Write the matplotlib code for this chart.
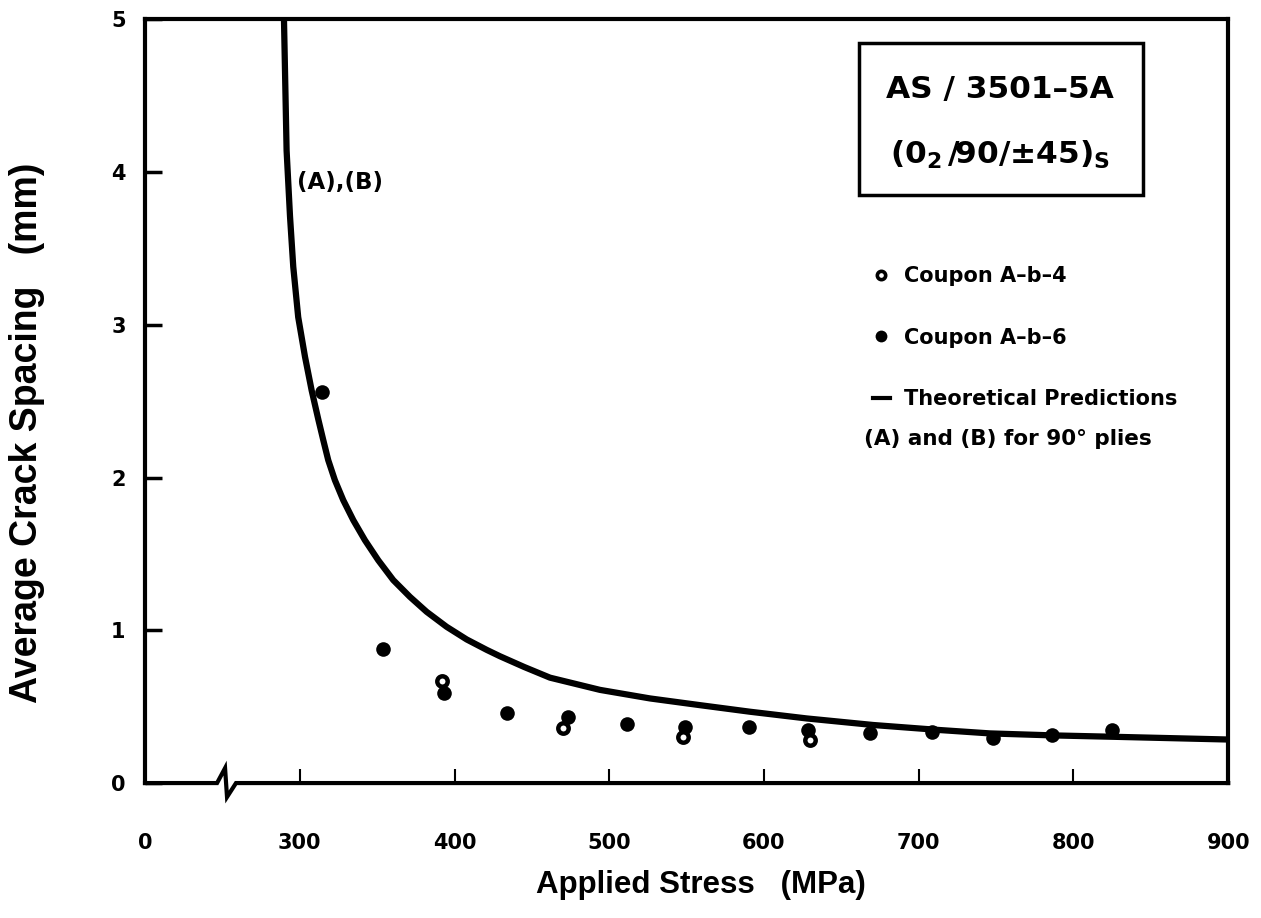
import numpy as np
import matplotlib
matplotlib.use("Agg")
import matplotlib.pyplot as plt
from matplotlib.lines import Line2D
from matplotlib.patches import Rectangle

plt.rcParams["font.family"] = ["Liberation Sans", "DejaVu Sans"]
HEAVY = ["DejaVu Sans"]

# theoretical prediction (A),(B) for the 90 deg plies
curve_stress = [289.8, 291.5, 293.7, 295.8, 299.0, 303.4, 307.7, 312.0, 315.2,
                318.4, 322.7, 328.1, 334.6, 342.1, 350.7, 360.4, 371.2, 382.0,
                394.9, 407.9, 420.8, 429.4, 445.0, 461.7, 494.0, 526.3, 558.6,
                590.9, 627.6, 670.6, 713.7, 746.0, 786.7, 825.5, 900.0]
curve_spacing = [5.00, 4.14, 3.71, 3.38, 3.05, 2.79, 2.57, 2.38, 2.245,
                 2.114, 1.983, 1.852, 1.721, 1.59, 1.459, 1.329, 1.219, 1.121,
                 1.023, 0.94, 0.872, 0.83, 0.76, 0.69, 0.61, 0.554, 0.51,
                 0.467, 0.423, 0.38, 0.347, 0.325, 0.312, 0.303, 0.285]

# coupon A-b-4 (open symbols)
b4_stress = [392.1, 470.3, 547.8, 629.7]
b4_spacing = [0.67, 0.358, 0.303, 0.281]

# coupon A-b-6 (filled symbols)
b6_stress = [314.2, 353.6, 393.2, 433.7, 473.5, 511.2, 548.9, 590.5,
             628.6, 668.5, 708.3, 748.2, 785.9, 824.7]
b6_spacing = [2.56, 0.875, 0.587, 0.46, 0.434, 0.386, 0.368, 0.365,
              0.347, 0.325, 0.336, 0.293, 0.314, 0.347]

xticks = [0, 300, 400, 500, 600, 700, 800, 900]
yticks = [0, 1, 2, 3, 4, 5]


# broken stress axis: linear above 250 MPa, 0-250 squeezed into the gap
def fwd(x):
    x = np.asarray(x, dtype=float)
    return np.where(x >= 250, x, 200 + x / 5.0)


def inv(u):
    u = np.asarray(u, dtype=float)
    return np.where(u >= 250, u, (u - 200) * 5.0)


fig = plt.figure(figsize=(12.61, 9.18), dpi=100)
ax = fig.add_axes([0.115, 0.147, 0.859, 0.832])
ax.set_xscale("function", functions=(fwd, inv))
ax.set_xlim(0, 900)
ax.set_ylim(0, 5)

ax.plot(curve_stress, curve_spacing, color="black", lw=4.5,
        solid_capstyle="butt", solid_joinstyle="round", zorder=3)
ax.plot(b6_stress, b6_spacing, "o", color="black", ms=10.5, mew=0, zorder=4)
ax.plot(b4_stress, b4_spacing, "o", mfc="white", mec="black", ms=7.5,
        mew=3.2, zorder=4)

ax.set_xticks(xticks)
ax.set_xticklabels([str(t) for t in xticks])
ax.set_yticks(yticks)
ax.tick_params(axis="x", direction="in", length=10, width=1.5, pad=36)
ax.tick_params(axis="y", direction="in", length=12, width=2.5, pad=14)
for lab in ax.get_xticklabels() + ax.get_yticklabels():
    lab.set_fontweight("bold")
    lab.set_fontfamily(HEAVY)
    lab.set_fontsize(15)

for side in ["top", "left", "right"]:
    ax.spines[side].set_linewidth(3)
ax.spines["bottom"].set_visible(False)
# bottom axis line with the break mark
ax.plot([0, 0.0665, 0.0739, 0.0757, 0.084, 1.0],
        [0, 0, 0.0196, -0.0183, 0, 0],
        transform=ax.transAxes, color="black", lw=3, clip_on=False,
        solid_joinstyle="miter", zorder=5)

ax.set_xlabel("Applied Stress   (MPa)", fontsize=22.5, fontweight="bold")
ax.xaxis.set_label_coords(0.513, -0.1335)
ax.xaxis.label.set_va("center")
ax.set_ylabel("Average Crack Spacing   (mm)", fontsize=27, fontweight="bold")
ax.yaxis.set_label_coords(-0.109, 0.459)
ax.yaxis.label.set_va("center")

ax.text(298, 3.93, "(A),(B)", fontsize=16.5, fontweight="bold", family=HEAVY,
        ha="left", va="center")

# material / layup box
ax.add_patch(Rectangle((0.659, 0.7696), 0.2625, 0.199, transform=ax.transAxes,
                       fill=False, lw=2.5, ec="black", zorder=5))
ax.text(0.7895, 0.908, "AS / 3501\u20135A", transform=ax.transAxes,
        fontsize=22.5, fontweight="bold", family=HEAVY,
        ha="center", va="center")
ax.text(0.7895, 0.822, r"$\mathregular{(0_2\,/90/±45)_S}$",
        transform=ax.transAxes, fontsize=22.5, fontweight="bold",
        family=HEAVY, ha="center", va="center")

handles = [
    Line2D([], [], ls="none", marker="o", mfc="white", mec="black", ms=6,
           mew=2.6),
    Line2D([], [], ls="none", marker="o", color="black", ms=8.5, mew=0),
    Line2D([], [], color="black", lw=3),
]
labels = ["Coupon A\u2013b\u20134", "Coupon A\u2013b\u20136",
          "Theoretical Predictions"]
leg = ax.legend(handles, labels, loc="upper left",
                bbox_to_anchor=(0.672, 0.677), frameon=False,
                prop={"size": 15, "weight": "bold", "family": HEAVY},
                handlelength=0.8, handletextpad=0.7, labelspacing=2.0,
                borderpad=0, borderaxespad=0)
ax.text(0.664, 0.451, "(A) and (B) for 90\u00b0 plies", transform=ax.transAxes,
        fontsize=15.5, fontweight="bold", family=HEAVY, ha="left", va="center")

fig.savefig("out.png", dpi=100)
